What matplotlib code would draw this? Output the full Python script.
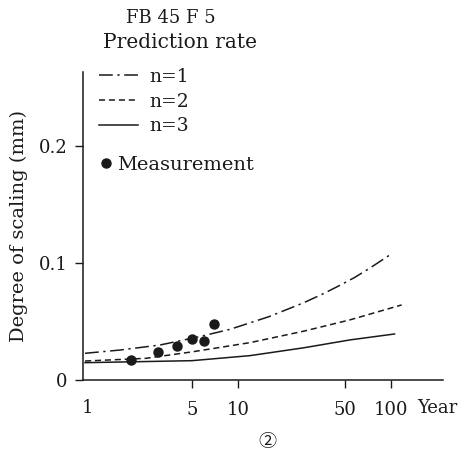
import matplotlib
matplotlib.use("Agg")
from matplotlib import pyplot as plt

plt.rcParams['font.family'] = ['DejaVu Serif', 'Noto Sans CJK JP']
ink = '#1a1a1a'

# predicted scaling depth (mm) vs years
years_n1 = [1, 1.7, 3.1, 5.6, 8.9, 16, 27, 36, 46, 58, 73, 98]
scale_n1 = [0.0228, 0.0256, 0.0299, 0.037, 0.0433, 0.0541, 0.066, 0.0735, 0.0805, 0.0875, 0.0955, 0.1065]

years_n2 = [1, 2.5, 5, 12, 27, 54, 118]
scale_n2 = [0.0162, 0.0185, 0.024, 0.0319, 0.0417, 0.0513, 0.0641]

years_n3 = [1, 5, 12, 27, 54, 106]
scale_n3 = [0.0148, 0.0165, 0.0208, 0.0275, 0.0342, 0.0393]

# measurements
meas_years = [2, 3, 4, 5, 6, 7]
meas_scale = [0.0168, 0.0237, 0.0288, 0.0348, 0.0336, 0.0481]

xticks = [5, 10, 50, 100]
xticklabels = ['5', '10', '50', '100']
yticks = [0, 0.1, 0.2]
yticklabels = ['0', '0.1', '0.2']

fig = plt.figure(figsize=(4.58, 4.58), dpi=100)
ax = fig.add_axes([83/458, 1-380/458, 360/458, 308/458])

l1, = ax.plot(years_n1, scale_n1, color=ink, lw=1.1, dashes=[9, 3, 1.5, 3])
l2, = ax.plot(years_n2, scale_n2, color=ink, lw=1.1, dashes=[4, 2.5])
l3, = ax.plot(years_n3, scale_n3, color=ink, lw=1.1)
pts, = ax.plot(meas_years, meas_scale, 'o', color=ink, ms=6.5, ls='none')

ax.set_xscale('log')
ax.set_xlim(0.97, 220)
ax.set_ylim(0, 0.263)

ax.set_xticks(xticks)
ax.set_xticklabels(xticklabels)
ax.xaxis.set_minor_locator(matplotlib.ticker.NullLocator())
ax.set_yticks(yticks)
ax.set_yticklabels(yticklabels)
ax.tick_params(direction='out', length=6, width=1, colors=ink, labelsize=13)
ax.tick_params(axis='x', pad=9)
ax.tick_params(axis='y', pad=5)

for s in ['top', 'right']:
    ax.spines[s].set_visible(False)
for s in ['left', 'bottom']:
    ax.spines[s].set_color(ink)
    ax.spines[s].set_linewidth(1.1)

ax.set_ylabel('Degree of scaling (mm)', fontsize=14, color=ink, labelpad=8)

fig.text(87/458, 1-408/458, '1', fontsize=13, color=ink, ha='center', va='center')
fig.text(417/458, 1-408/458, 'Year', fontsize=13, color=ink, ha='left', va='center')
fig.text(267/458, 1-442/458, '②', fontsize=13, color=ink, ha='center', va='center')

fig.text(171/458, 1-18/458, 'FB 45 F 5', fontsize=13, color=ink, ha='center', va='center')
fig.text(180/458, 1-43/458, 'Prediction rate', fontsize=14.5, color=ink, ha='center', va='center')

leg1 = ax.legend([l1, l2, l3], ['n=1', 'n=2', 'n=3'], loc='upper left',
                 bbox_to_anchor=(99/458, 1-68/458), bbox_transform=fig.transFigure,
                 frameon=False, fontsize=13.5, handlelength=2.1, handletextpad=0.6,
                 labelspacing=0.35, borderpad=0, borderaxespad=0, labelcolor=ink)
ax.add_artist(leg1)
ax.legend([pts], ['Measurement'], loc='upper left',
          bbox_to_anchor=(100/458, 1-156/458), bbox_transform=fig.transFigure,
          frameon=False, fontsize=14, handlelength=0.6, handletextpad=0.3,
          borderpad=0, borderaxespad=0, labelcolor=ink)

fig.savefig('out.png', dpi=100)
